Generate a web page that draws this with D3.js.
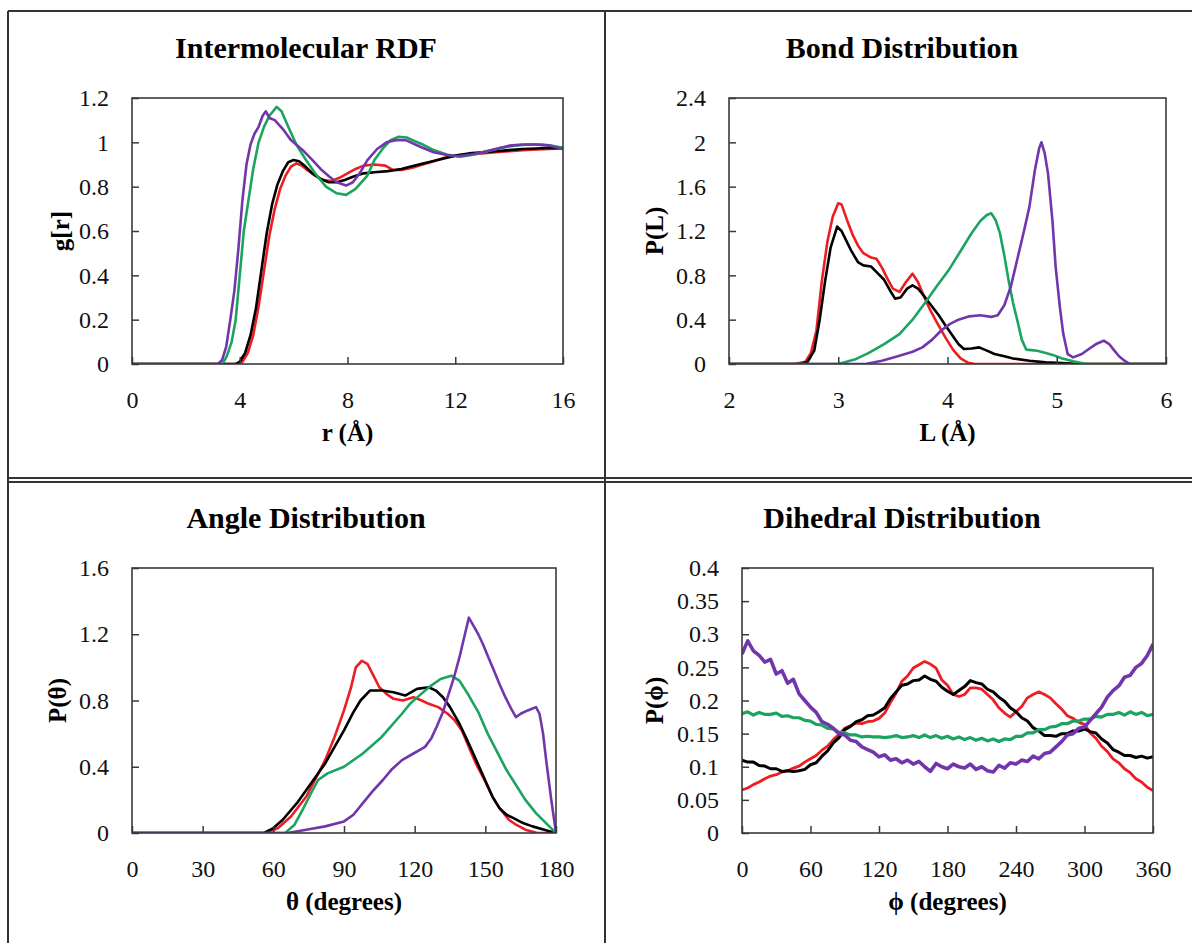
<!DOCTYPE html>
<html><head><meta charset="utf-8">
<script src="https://cdn.jsdelivr.net/npm/d3@7"></script>
<style>body{margin:0;background:#fff}svg{display:block}</style>
</head><body>
<svg id="c" width="1192" height="943"></svg>
<script>
// ---------- DATA ----------
const seriesNames = ["red", "black", "green", "purple"];
const seriesColors = ["#ee1d23", "#000000", "#1ba45f", "#7236ac"];

// Intermolecular RDF  [r (Å), g(r)]
const rdfRed = [[0,0],[3.9,0],[4.1,0.01],[4.3,0.05],[4.5,0.13],[4.7,0.26],[4.9,0.42],[5.1,0.58],[5.3,0.7],[5.5,0.79],[5.7,0.85],[5.9,0.89],[6.1,0.905],[6.3,0.895],[6.5,0.875],[6.8,0.85],[7.1,0.83],[7.4,0.825],[7.7,0.84],[8.0,0.86],[8.3,0.88],[8.6,0.895],[9.0,0.9],[9.4,0.895],[9.7,0.875],[10.0,0.875],[10.4,0.885],[10.8,0.9],[11.2,0.915],[11.6,0.93],[12.0,0.94],[12.5,0.945],[13.0,0.95],[13.5,0.955],[14.0,0.96],[14.5,0.965],[15.0,0.968],[15.5,0.97],[16,0.972]];
const rdfBlack = [[0,0],[3.85,0],[4.0,0.01],[4.2,0.05],[4.4,0.13],[4.6,0.25],[4.8,0.42],[5.0,0.59],[5.2,0.72],[5.4,0.81],[5.6,0.87],[5.8,0.91],[6.0,0.92],[6.2,0.915],[6.4,0.895],[6.7,0.86],[7.0,0.835],[7.3,0.82],[7.6,0.82],[7.9,0.83],[8.2,0.845],[8.6,0.86],[9.0,0.865],[9.5,0.87],[10.0,0.88],[10.5,0.895],[11.0,0.91],[11.5,0.925],[12.0,0.94],[12.5,0.95],[13.0,0.955],[13.5,0.96],[14.0,0.965],[14.5,0.97],[15.0,0.972],[15.5,0.975],[16,0.975]];
const rdfGreen = [[0,0],[3.35,0],[3.5,0.03],[3.7,0.1],[3.85,0.2],[4.0,0.4],[4.15,0.6],[4.3,0.72],[4.5,0.88],[4.7,1.0],[4.9,1.07],[5.1,1.12],[5.37,1.16],[5.55,1.14],[5.8,1.07],[6.1,0.99],[6.46,0.92],[6.8,0.86],[7.2,0.8],[7.6,0.77],[7.95,0.763],[8.3,0.79],[8.74,0.85],[9.0,0.92],[9.3,0.97],[9.6,1.01],[9.9,1.025],[10.2,1.022],[10.5,1.005],[10.8,0.99],[11.2,0.965],[11.7,0.944],[12.2,0.935],[12.7,0.945],[13.2,0.96],[13.7,0.975],[14.2,0.985],[14.7,0.99],[15.2,0.99],[15.6,0.985],[16,0.975]];
const rdfPurple = [[0,0],[3.2,0],[3.35,0.02],[3.5,0.08],[3.65,0.2],[3.8,0.33],[3.95,0.52],[4.1,0.74],[4.25,0.9],[4.4,0.99],[4.55,1.04],[4.7,1.07],[4.85,1.12],[4.97,1.14],[5.1,1.11],[5.3,1.1],[5.6,1.06],[5.9,1.01],[6.32,0.967],[6.7,0.92],[7.0,0.88],[7.32,0.846],[7.6,0.82],[7.95,0.805],[8.2,0.82],[8.45,0.86],[8.74,0.92],[9.1,0.97],[9.45,1.0],[9.8,1.01],[10.16,1.01],[10.7,0.98],[11.2,0.955],[11.65,0.944],[12.1,0.937],[12.6,0.945],[13.0,0.955],[13.5,0.97],[14.0,0.985],[14.5,0.99],[15.0,0.99],[15.5,0.985],[16,0.97]];

// Bond distribution [L (Å), P(L)]
const bondRed = [[2,0],[2.6,0],[2.7,0.02],[2.75,0.1],[2.8,0.3],[2.85,0.75],[2.9,1.1],[2.95,1.33],[3.0,1.45],[3.03,1.44],[3.08,1.3],[3.13,1.17],[3.18,1.07],[3.23,1.0],[3.3,0.96],[3.35,0.95],[3.4,0.87],[3.45,0.77],[3.5,0.68],[3.56,0.65],[3.62,0.74],[3.68,0.815],[3.73,0.74],[3.78,0.62],[3.84,0.49],[3.9,0.38],[3.98,0.24],[4.05,0.13],[4.12,0.05],[4.19,0.01],[4.25,0],[6,0]];
const bondBlack = [[2,0],[2.65,0],[2.72,0.02],[2.78,0.12],[2.83,0.4],[2.88,0.75],[2.93,1.05],[2.99,1.24],[3.03,1.2],[3.07,1.12],[3.12,1.02],[3.18,0.92],[3.23,0.89],[3.3,0.88],[3.36,0.82],[3.42,0.76],[3.47,0.67],[3.52,0.59],[3.57,0.6],[3.63,0.68],[3.68,0.71],[3.73,0.68],[3.78,0.62],[3.85,0.53],[3.92,0.44],[3.98,0.35],[4.05,0.25],[4.1,0.18],[4.15,0.135],[4.22,0.14],[4.29,0.15],[4.35,0.125],[4.43,0.09],[4.52,0.07],[4.6,0.05],[4.75,0.03],[4.9,0.015],[5.05,0.008],[5.2,0],[6,0]];
const bondGreen = [[2,0],[3.0,0],[3.15,0.04],[3.28,0.1],[3.42,0.18],[3.56,0.27],[3.68,0.4],[3.8,0.56],[3.9,0.7],[4.01,0.845],[4.12,1.02],[4.22,1.18],[4.3,1.29],[4.36,1.345],[4.4,1.36],[4.44,1.3],[4.48,1.18],[4.52,0.98],[4.56,0.75],[4.6,0.55],[4.64,0.39],[4.68,0.22],[4.72,0.13],[4.82,0.12],[4.9,0.1],[4.97,0.08],[5.05,0.05],[5.15,0.025],[5.25,0.005],[5.3,0],[6,0]];
const bondPurple = [[2,0],[3.25,0],[3.4,0.03],[3.56,0.075],[3.68,0.11],[3.77,0.15],[3.86,0.22],[3.94,0.3],[4.02,0.36],[4.1,0.4],[4.2,0.43],[4.3,0.44],[4.4,0.425],[4.46,0.44],[4.52,0.53],[4.58,0.7],[4.64,0.95],[4.7,1.2],[4.75,1.42],[4.8,1.75],[4.84,1.95],[4.86,2.0],[4.89,1.9],[4.92,1.72],[4.96,1.3],[4.99,0.875],[5.03,0.5],[5.06,0.27],[5.1,0.09],[5.15,0.06],[5.23,0.09],[5.3,0.14],[5.36,0.18],[5.43,0.21],[5.48,0.18],[5.52,0.13],[5.57,0.07],[5.62,0.03],[5.67,0],[6,0]];

// Angle distribution [θ (deg), P(θ)]
const angRed = [[0,0],[57,0],[62,0.03],[67.5,0.1],[74,0.22],[82,0.44],[86,0.58],[90,0.74],[93,0.88],[95,1.0],[97.6,1.04],[100,1.02],[102.5,0.95],[105,0.88],[108,0.84],[111,0.81],[115,0.8],[119.5,0.82],[123,0.8],[126,0.78],[130,0.76],[134,0.72],[137,0.68],[140,0.62],[143,0.52],[146,0.42],[150,0.31],[153,0.22],[156,0.15],[160,0.08],[163,0.05],[167,0.02],[172,0],[180,0]];
const angBlack = [[0,0],[56,0],[60,0.03],[64,0.08],[70,0.18],[74,0.26],[82,0.42],[90,0.62],[94,0.73],[97,0.8],[101,0.86],[106,0.86],[111,0.85],[116,0.83],[121,0.87],[126,0.88],[129,0.86],[132,0.82],[135,0.76],[139,0.66],[142,0.57],[145.5,0.46],[148,0.38],[150.5,0.3],[153,0.22],[156,0.15],[159,0.11],[162,0.09],[166,0.06],[170,0.04],[175,0.02],[180,0]];
const angGreen = [[0,0],[65,0],[69,0.05],[72.4,0.14],[76,0.24],[79,0.32],[83,0.36],[90,0.4],[98,0.48],[106,0.58],[114.6,0.72],[118,0.78],[122.8,0.84],[127,0.89],[131,0.93],[135.5,0.95],[139,0.92],[143,0.83],[147,0.73],[151,0.6],[155,0.49],[159,0.38],[163,0.29],[167,0.2],[171.5,0.12],[175,0.07],[180,0]];
const angPurple = [[0,0],[66,0],[74,0.02],[82,0.04],[90,0.07],[94,0.11],[98,0.18],[102,0.25],[106.5,0.32],[110,0.38],[114.6,0.44],[119.5,0.48],[124.4,0.52],[127,0.57],[129.3,0.64],[132,0.73],[134,0.82],[136.5,0.93],[139,1.06],[141,1.18],[143,1.3],[145,1.25],[147,1.2],[149,1.14],[151,1.07],[153.7,0.98],[156,0.9],[158.5,0.82],[161,0.75],[163,0.7],[165,0.72],[168,0.74],[171.5,0.76],[173,0.72],[174.5,0.6],[176,0.42],[178,0.2],[180,0]];

// Dihedral distribution: φ = 0,5,...,360 ; P(φ)
const dihPhi = d3.range(0, 361, 5);
const dihRed = [0.065,0.068,0.073,0.077,0.082,0.086,0.088,0.092,0.094,0.098,0.101,0.107,0.112,0.117,0.125,0.131,0.141,0.149,0.158,0.162,0.166,0.165,0.168,0.169,0.173,0.181,0.197,0.211,0.229,0.237,0.249,0.254,0.259,0.255,0.249,0.231,0.223,0.209,0.206,0.209,0.219,0.219,0.217,0.209,0.201,0.189,0.181,0.175,0.183,0.191,0.204,0.209,0.213,0.209,0.204,0.195,0.187,0.177,0.173,0.167,0.164,0.151,0.143,0.131,0.123,0.112,0.106,0.097,0.091,0.082,0.077,0.069,0.064];
const dihBlack = [0.11,0.107,0.107,0.102,0.101,0.097,0.097,0.093,0.094,0.093,0.094,0.096,0.103,0.106,0.116,0.124,0.136,0.144,0.156,0.161,0.168,0.171,0.177,0.178,0.183,0.189,0.203,0.213,0.223,0.225,0.23,0.231,0.237,0.232,0.229,0.22,0.214,0.209,0.215,0.221,0.23,0.227,0.225,0.217,0.213,0.205,0.199,0.189,0.183,0.174,0.169,0.159,0.154,0.147,0.147,0.146,0.15,0.15,0.154,0.154,0.157,0.153,0.151,0.142,0.136,0.126,0.122,0.117,0.117,0.114,0.116,0.113,0.115];
const dihGreen = [0.18,0.183,0.178,0.182,0.179,0.179,0.181,0.176,0.177,0.174,0.174,0.17,0.169,0.164,0.163,0.158,0.157,0.152,0.151,0.148,0.148,0.145,0.146,0.145,0.145,0.144,0.145,0.147,0.144,0.145,0.147,0.144,0.148,0.144,0.147,0.143,0.146,0.142,0.145,0.141,0.144,0.14,0.143,0.139,0.142,0.138,0.142,0.141,0.146,0.146,0.151,0.151,0.156,0.156,0.16,0.161,0.165,0.165,0.169,0.169,0.172,0.172,0.176,0.175,0.179,0.179,0.182,0.178,0.183,0.179,0.182,0.177,0.179];
const dihPurple = [0.27,0.29,0.275,0.268,0.258,0.262,0.24,0.245,0.226,0.232,0.21,0.2,0.19,0.182,0.168,0.164,0.158,0.15,0.148,0.14,0.138,0.13,0.126,0.122,0.115,0.118,0.11,0.112,0.106,0.11,0.104,0.108,0.1,0.093,0.105,0.1,0.097,0.104,0.1,0.098,0.104,0.096,0.1,0.094,0.092,0.102,0.098,0.106,0.104,0.11,0.108,0.116,0.112,0.12,0.122,0.13,0.138,0.148,0.15,0.158,0.16,0.17,0.18,0.19,0.205,0.215,0.222,0.235,0.238,0.25,0.256,0.268,0.285];

// Tick labels
const rdfXTicks = [0, 4, 8, 12, 16];
const rdfYTicks = [0, 0.2, 0.4, 0.6, 0.8, 1, 1.2];
const bondXTicks = [2, 3, 4, 5, 6];
const bondYTicks = [0, 0.4, 0.8, 1.2, 1.6, 2, 2.4];
const angXTicks = [0, 30, 60, 90, 120, 150, 180];
const angYTicks = [0, 0.4, 0.8, 1.2, 1.6];
const dihXTicks = [0, 60, 120, 180, 240, 300, 360];
const dihYTicks = [0, 0.05, 0.1, 0.15, 0.2, 0.25, 0.3, 0.35, 0.4];

// ---------- DRAW ----------
const svg = d3.select("#c");
const FONT = "'Liberation Serif','Times New Roman',serif";
const frameColor = "#3a3a3a";

// Outer borders
const borders = svg.append("g").attr("stroke", "#333").attr("stroke-width", 2).attr("fill", "none");
borders.append("line").attr("x1", 8).attr("x2", 8).attr("y1", 11).attr("y2", 943);
borders.append("line").attr("x1", 8).attr("x2", 1192).attr("y1", 11).attr("y2", 11);
borders.append("line").attr("x1", 605).attr("x2", 605).attr("y1", 11).attr("y2", 943);
borders.append("line").attr("x1", 8).attr("x2", 1192).attr("y1", 478).attr("y2", 478);
borders.append("line").attr("x1", 8).attr("x2", 1192).attr("y1", 482).attr("y2", 482);

const dih = s => dihPhi.map((p, i) => [p, s[i]]);

const panels = [
  { title: "Intermolecular RDF", xlabel: "r (Å)", ylabel: "g[r]", cx: 306,
    box: [132, 563, 98, 364], titleY: 58, ylabX: 60,
    xd: [0, 16], yd: [0, 1.2], xt: rdfXTicks, yt: rdfYTicks, sw: [2.6, 2.6, 2.6, 2.6],
    series: [rdfRed, rdfBlack, rdfGreen, rdfPurple] },
  { title: "Bond Distribution", xlabel: "L (Å)", ylabel: "P(L)", cx: 902,
    box: [729, 1166, 98, 364], titleY: 58, ylabX: 654,
    xd: [2, 6], yd: [0, 2.4], xt: bondXTicks, yt: bondYTicks, sw: [2.6, 2.6, 2.6, 2.6],
    series: [bondRed, bondBlack, bondGreen, bondPurple] },
  { title: "Angle Distribution", xlabel: "θ (degrees)", ylabel: "P(θ)", cx: 306,
    box: [132, 556, 568, 833], titleY: 528, ylabX: 57,
    xd: [0, 180], yd: [0, 1.6], xt: angXTicks, yt: angYTicks, sw: [2.6, 2.6, 2.6, 2.6],
    series: [angRed, angBlack, angGreen, angPurple] },
  { title: "Dihedral Distribution", xlabel: "ϕ (degrees)", ylabel: "P(ϕ)", cx: 902,
    box: [742, 1153, 568, 833], titleY: 528, ylabX: 654,
    xd: [0, 360], yd: [0, 0.4], xt: dihXTicks, yt: dihYTicks, sw: [2.8, 3.0, 3.2, 3.6],
    series: [dih(dihRed), dih(dihBlack), dih(dihGreen), dih(dihPurple)] }
];

panels.forEach(p => {
  const [x0, x1, y0, y1] = p.box;
  const x = d3.scaleLinear().domain(p.xd).range([x0, x1]);
  const y = d3.scaleLinear().domain(p.yd).range([y1, y0]);
  const g = svg.append("g");

  g.append("text").attr("x", p.cx).attr("y", p.titleY)
    .attr("text-anchor", "middle").attr("font-family", FONT)
    .attr("font-weight", "bold").attr("font-size", 30).text(p.title);

  const id = "clip" + Math.round(x0) + "_" + Math.round(y0);
  svg.append("clipPath").attr("id", id).append("rect")
    .attr("x", x0).attr("y", y0 - 2).attr("width", x1 - x0).attr("height", y1 - y0 + 2);

  const line = d3.line().x(d => x(d[0])).y(d => y(d[1]));
  const lg = g.append("g").attr("clip-path", `url(#${id})`);
  p.series.forEach((s, i) => {
    lg.append("path").datum(s).attr("d", line)
      .attr("fill", "none").attr("stroke", seriesColors[i])
      .attr("stroke-width", p.sw[i]).attr("stroke-linejoin", "round");
  });

  const xAxis = d3.axisBottom(x).tickValues(p.xt).tickSizeInner(-7).tickSizeOuter(0)
    .tickPadding(20).tickFormat(d => String(d));
  const yAxis = d3.axisLeft(y).tickValues(p.yt).tickSizeInner(-7).tickSizeOuter(0)
    .tickPadding(23).tickFormat(d => String(d));
  const ga = g.append("g").attr("transform", `translate(0,${y1})`).call(xAxis);
  const gy = g.append("g").attr("transform", `translate(${x0},0)`).call(yAxis);
  [ga, gy].forEach(a => {
    a.select(".domain").remove();
    a.selectAll("line").attr("stroke", frameColor).attr("stroke-width", 1.5);
    a.selectAll("text").attr("font-family", FONT).attr("font-size", 24).attr("fill", "#111");
  });
  ga.selectAll("text").attr("dy", "0.71em").attr("y", 27);

  g.append("rect").attr("x", x0).attr("y", y0).attr("width", x1 - x0).attr("height", y1 - y0)
    .attr("fill", "none").attr("stroke", frameColor).attr("stroke-width", 1.6);

  g.append("text").attr("x", (x0 + x1) / 2).attr("y", y1 + 77)
    .attr("text-anchor", "middle").attr("font-family", FONT)
    .attr("font-weight", "bold").attr("font-size", 25).text(p.xlabel);

  g.append("text").attr("transform", `translate(${p.ylabX},${(y0 + y1) / 2}) rotate(-90)`)
    .attr("text-anchor", "middle").attr("dominant-baseline", "central")
    .attr("font-family", FONT).attr("font-weight", "bold").attr("font-size", 25).text(p.ylabel);
});
</script>
</body></html>
